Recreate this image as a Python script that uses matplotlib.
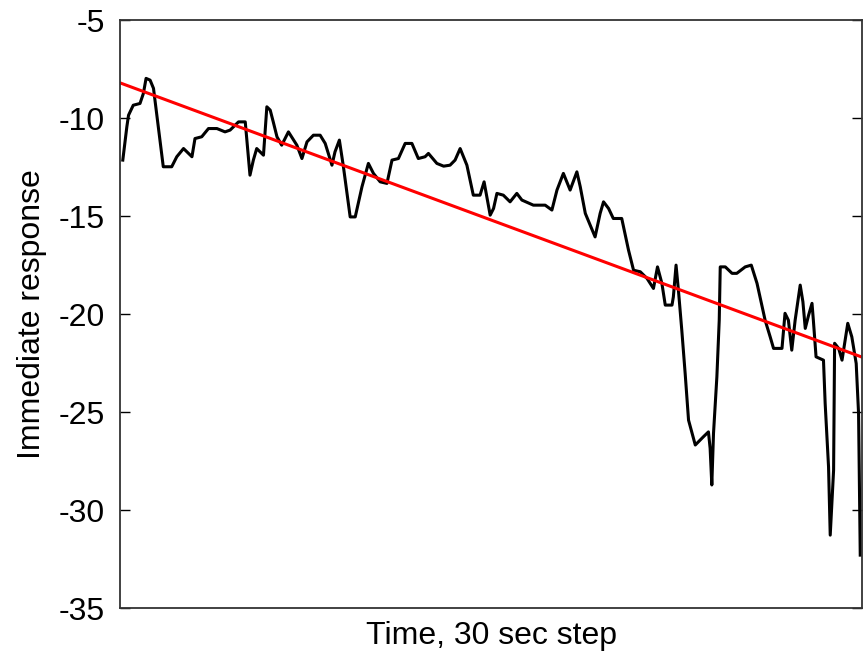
import numpy as np
import matplotlib
matplotlib.use("Agg")
import matplotlib.pyplot as plt

# time step (30 s) and immediate response
t = [0.8, 2.0, 2.5, 3.9, 5.9, 6.9, 7.7, 8.9, 9.9, 12.8, 15.3, 16.8, 18.8, 21.3,
     22.2, 24.2, 26.2, 28.7, 31.1, 32.6, 35.1, 37.1, 38.5, 39.5, 40.5, 42.5,
     43.5, 44.5, 45.4, 46.5, 47.9, 49.9, 52.4, 53.9, 55.4, 57.3, 59.3, 60.8,
     62.8, 63.7, 65.0, 66.2, 68.2, 69.7, 71.7, 73.6, 75.1, 77.1, 79.1, 80.6,
     82.5, 84.5, 86.5, 88.4, 90.4, 91.4, 93.9, 95.9, 97.8, 99.3, 100.8, 102.8,
     104.7, 106.7, 107.9, 109.7, 110.7, 111.7, 113.6, 115.6, 117.6, 119.1,
     122.5, 126.0, 128.0, 129.5, 131.4, 133.4, 135.4, 136.4, 137.9, 140.8,
     142.3, 143.3, 144.8, 146.2, 148.7, 150.7, 152.2, 154.2, 156.2, 158.1,
     159.3, 160.6, 161.6, 163.6, 164.0, 164.8, 165.5, 166.5, 167.5, 168.5,
     170.5, 172.9, 174.4, 174.9, 175.4, 175.9, 176.9, 177.6, 177.9, 179.4,
     181.4, 182.8, 185.3, 187.1, 188.8, 191.2, 192.7, 193.7, 196.2, 197.1,
     198.1, 199.1, 200.1, 201.6, 202.4, 203.1, 204.1, 205.1, 205.5, 206.3,
     208.5, 209.0, 210.0, 210.5, 211.5, 211.8, 213.0, 214.0, 215.7, 216.9,
     218.2, 218.9, 219.4]
response = [-12.14, -10.44, -9.85, -9.34, -9.25, -8.74, -7.97, -8.06, -8.48,
            -12.48, -12.48, -11.97, -11.55, -11.97, -11.04, -10.95, -10.53,
            -10.53, -10.70, -10.61, -10.19, -10.19, -12.91, -12.14, -11.55,
            -11.89, -9.42, -9.59, -10.19, -10.95, -11.38, -10.70, -11.38,
            -12.06, -11.21, -10.87, -10.87, -11.29, -12.40, -11.72, -11.12,
            -12.48, -15.04, -15.04, -13.50, -12.31, -12.82, -13.25, -13.33,
            -12.14, -12.06, -11.29, -11.29, -12.06, -11.97, -11.80, -12.31,
            -12.45, -12.40, -12.14, -11.55, -12.40, -13.93, -13.93, -13.25,
            -14.95, -14.61, -13.84, -13.93, -14.27, -13.84, -14.18, -14.44,
            -14.44, -14.69, -13.67, -12.82, -13.67, -12.74, -13.50, -14.86,
            -16.06, -14.86, -14.27, -14.61, -15.12, -15.12, -16.73, -17.76,
            -17.84, -18.18, -18.69, -17.59, -18.43, -19.54, -19.54, -19.12,
            -17.50, -18.78, -20.82, -23.03, -25.41, -26.68, -26.26, -26.01,
            -26.85, -28.72, -26.09, -23.20, -20.31, -17.59, -17.59, -17.92,
            -17.92, -17.59, -17.50, -18.43, -20.31, -21.16, -21.75, -21.75,
            -19.96, -20.31, -21.84, -20.31, -18.52, -19.37, -20.73, -20.05,
            -19.45, -20.31, -22.18, -22.35, -24.56, -27.79, -31.28, -27.96,
            -21.49, -21.75, -22.35, -20.47, -21.16, -22.52, -25.07, -32.30]

# linear trend, start and end
trend_t = [0, 220]
trend = [-8.2, -22.2]

plt.rcParams['font.family'] = ['Liberation Sans', 'DejaVu Sans']
plt.rcParams['axes.unicode_minus'] = False

fig = plt.figure(figsize=(8.64, 6.51), dpi=100)
ax = fig.add_axes([0.139, 0.066, 0.859, 0.903])

ax.plot(t, response, color='black', lw=2.2)
ax.plot(trend_t, trend, color='red', lw=2.2)

ax.set_xlim(0, 220)
ax.set_ylim(-35, -5)
ax.set_yticks(np.arange(-35, -4, 5))
ax.set_xticks([])
ax.tick_params(axis='y', direction='in', left=True, right=True,
               length=7, width=1, labelsize=23, pad=11)
for s in ax.spines.values():
    s.set_linewidth(1.3)
    s.set_color('#333333')

ax.set_xlabel('Time, 30 sec step', fontsize=23, labelpad=9)
ax.set_ylabel('Immediate response', fontsize=23, labelpad=8)

fig.savefig('out.png', dpi=100)
